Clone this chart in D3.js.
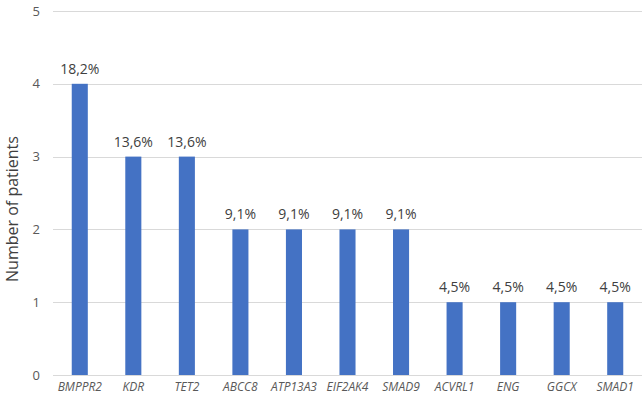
<!DOCTYPE html>
<html>
<head>
<meta charset="utf-8">
<script src="https://cdn.jsdelivr.net/npm/d3@7"></script>
<style>
  html, body { margin: 0; padding: 0; background: #fff; }
  svg { display: block; font-family: "Open Sans", "Liberation Sans", sans-serif; }
</style>
</head>
<body>
<div id="chart"></div>
<script>
const genes = ['BMPPR2', 'KDR', 'TET2', 'ABCC8', 'ATP13A3', 'EIF2AK4', 'SMAD9', 'ACVRL1', 'ENG', 'GGCX', 'SMAD1'];
const patients = [4, 3, 3, 2, 2, 2, 2, 1, 1, 1, 1];
const percents = ['18,2%', '13,6%', '13,6%', '9,1%', '9,1%', '9,1%', '9,1%', '4,5%', '4,5%', '4,5%', '4,5%'];
const yTicks = [0, 1, 2, 3, 4, 5];

const width = 644, height = 397;
const margin = { top: 11, right: 2, bottom: 22, left: 53 };

const svg = d3.select('#chart').append('svg')
  .attr('width', width)
  .attr('height', height);

const x = d3.scaleBand()
  .domain(genes)
  .range([margin.left, width - margin.right])
  .paddingInner(0.7)
  .paddingOuter(0.35);

const y = d3.scaleLinear()
  .domain([0, 5])
  .range([height - margin.bottom, margin.top]);

// grid lines
svg.append('g').selectAll('line')
  .data(yTicks)
  .enter().append('line')
  .attr('x1', margin.left)
  .attr('x2', width - margin.right)
  .attr('y1', d => Math.round(y(d)) + 0.5)
  .attr('y2', d => Math.round(y(d)) + 0.5)
  .attr('stroke', '#d9d9d9')
  .attr('stroke-width', 1);

// y axis tick labels
const yAxis = d3.axisLeft(y).tickValues(yTicks).tickFormat(d3.format('d')).tickSize(0).tickPadding(13);
const gy = svg.append('g')
  .attr('transform', `translate(${margin.left},0)`)
  .call(yAxis);
gy.select('.domain').remove();
gy.selectAll('text')
  .attr('fill', '#595959')
  .attr('font-size', 13)
  .attr('font-family', '"Open Sans", sans-serif');

// bars
svg.append('g').selectAll('rect')
  .data(genes)
  .enter().append('rect')
  .attr('x', d => x(d))
  .attr('y', (d, i) => y(patients[i]))
  .attr('width', x.bandwidth())
  .attr('height', (d, i) => y(0) - y(patients[i]))
  .attr('fill', '#4472c4');

// value labels
svg.append('g').selectAll('text')
  .data(genes)
  .enter().append('text')
  .attr('x', d => x(d) + x.bandwidth() / 2)
  .attr('y', (d, i) => y(patients[i]) - 10)
  .attr('text-anchor', 'middle')
  .attr('font-size', 14)
  .attr('fill', '#404040')
  .text((d, i) => percents[i]);

// x axis labels
const xAxis = d3.axisBottom(x).tickSize(0).tickPadding(7);
const gx = svg.append('g')
  .attr('transform', `translate(0,${y(0)})`)
  .call(xAxis);
gx.select('.domain').remove();
gx.selectAll('text')
  .attr('fill', '#595959')
  .attr('font-size', 12)
  .attr('font-style', 'italic')
  .attr('font-family', '"Open Sans", sans-serif');

// y axis title
svg.append('text')
  .attr('transform', 'translate(18,209) rotate(-90)')
  .attr('text-anchor', 'middle')
  .attr('font-size', 16)
  .attr('fill', '#404040')
  .text('Number of patients');
</script>
</body>
</html>
